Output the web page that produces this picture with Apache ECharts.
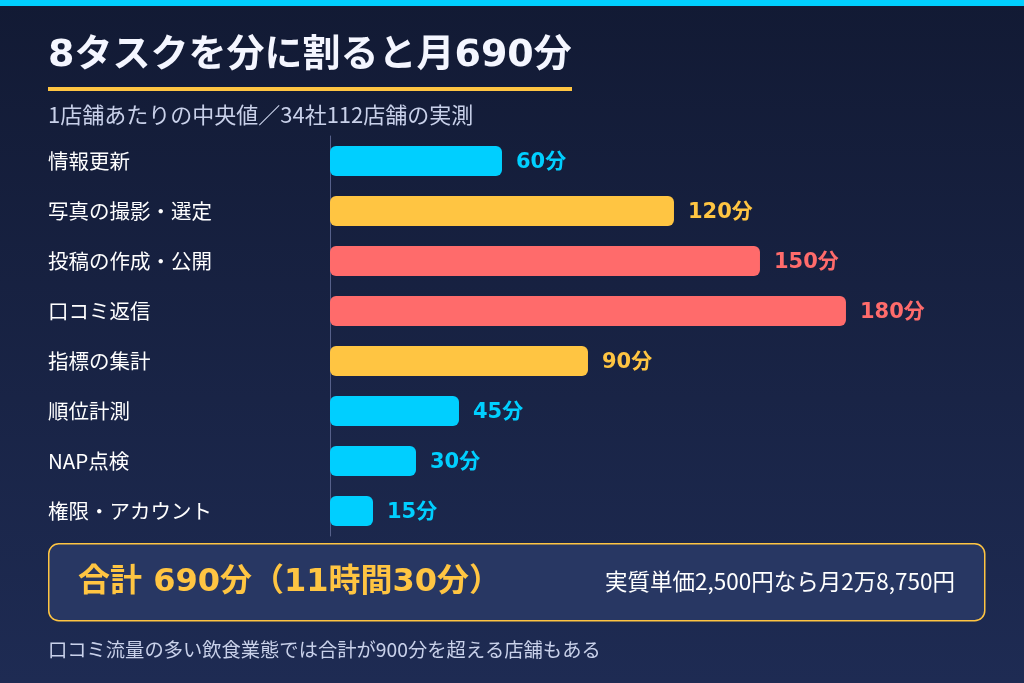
<!DOCTYPE html>
<html>
<head>
<meta charset="utf-8">
<script src="https://cdn.jsdelivr.net/npm/echarts@6/dist/echarts.min.js"></script>
<style>
  html, body { margin: 0; padding: 0; }
  #chart { width: 1024px; height: 683px; }
</style>
</head>
<body>
<div id="chart"></div>
<script>
'use strict'

// データ
const tasks = ['情報更新', '写真の撮影・選定', '投稿の作成・公開', '口コミ返信', '指標の集計', '順位計測', 'NAP点検', '権限・アカウント']
const minutes = [60, 120, 150, 180, 90, 45, 30, 15]
const unit = '分'

const titleText = '8タスクを分に割ると月690分'
const subText = '1店舗あたりの中央値／34社112店舗の実測'
const totalText = '合計 690分（11時間30分）'
const priceText = '実質単価2,500円なら月2万8,750円'
const noteText = '口コミ流量の多い飲食業態では合計が900分を超える店舗もある'

// 太字の数字は幅広のDejaVu、本文はNoto Sans CJK JP
const FONT = '"Noto Sans CJK JP", sans-serif'
const BOLD_FONT = '"DejaVu Sans", "Noto Sans CJK JP", sans-serif'
const CYAN = '#00cfff'
const GOLD = '#ffc542'
const RED = '#ff6b6b'

// 所要時間で色分け
function colorFor(v) {
  if (v >= 150) return RED
  if (v >= 90) return GOLD
  return CYAN
}

const chart = echarts.init(document.getElementById('chart'), null, { renderer: 'canvas' })

const option = {
  backgroundColor: {
    type: 'linear', x: 0, y: 0, x2: 0, y2: 1,
    colorStops: [{ offset: 0, color: '#121a34' }, { offset: 1, color: '#1e2b53' }]
  },
  animation: false,
  grid: { left: 330, top: 136, width: 573.3, height: 400 },
  xAxis: {
    type: 'value', min: 0, max: 200,
    show: false
  },
  yAxis: {
    type: 'category',
    data: tasks,
    inverse: true,
    axisLine: { show: true, lineStyle: { color: '#56608a', width: 1 } },
    axisTick: { show: false },
    axisLabel: {
      align: 'left', margin: 282,
      color: '#ffffff', fontSize: 20.5, fontFamily: FONT
    }
  },
  series: [{
    type: 'bar',
    data: minutes,
    barWidth: 30,
    itemStyle: {
      borderRadius: 6,
      color: p => colorFor(p.value)
    },
    label: {
      show: true, position: 'right', distance: 14, offset: [0, 2],
      fontFamily: BOLD_FONT, fontSize: 21, fontWeight: 'bold',
      formatter: p => p.value + unit,
      color: 'inherit'
    }
  }],
  graphic: [
    { type: 'rect', left: 0, top: 0, shape: { width: 1024, height: 6 }, style: { fill: CYAN } },
    {
      type: 'text', x: 48, y: 56,
      style: { text: titleText, fill: '#f4f6ff', font: 'bold 38px ' + BOLD_FONT, verticalAlign: 'middle' }
    },
    { type: 'rect', left: 48, top: 87, shape: { width: 524, height: 4 }, style: { fill: GOLD } },
    {
      type: 'text', x: 48, y: 115,
      style: { text: subText, fill: '#c9d1ea', font: '22px ' + FONT, verticalAlign: 'middle' }
    },
    {
      type: 'rect', left: 48, top: 543,
      shape: { width: 936, height: 77, r: 10 },
      style: { fill: '#283763', stroke: GOLD, lineWidth: 1.5 }
    },
    {
      type: 'text', x: 78, y: 583,
      style: { text: totalText, fill: GOLD, font: 'bold 32px ' + BOLD_FONT, verticalAlign: 'middle' }
    },
    {
      type: 'text', x: 955, y: 581,
      style: { text: priceText, fill: '#ffffff', font: '22.5px ' + FONT, align: 'right', verticalAlign: 'middle' }
    },
    {
      type: 'text', x: 48, y: 650,
      style: { text: noteText, fill: '#c9d1ea', font: '19.3px ' + FONT, verticalAlign: 'middle' }
    }
  ]
}

option && chart.setOption(option)
</script>
</body>
</html>
